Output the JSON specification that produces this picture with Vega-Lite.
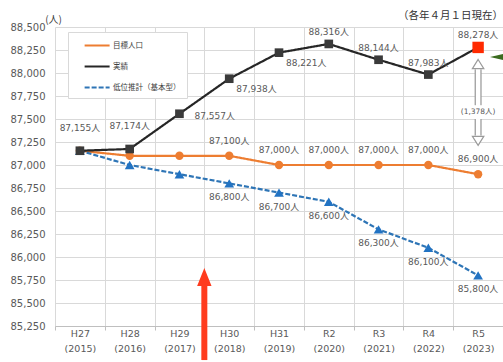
{
  "$schema": "https://vega.github.io/schema/vega-lite/v6.json",
  "width": 448,
  "height": 299,
  "autosize": {"type": "none"},
  "padding": {"left": 55, "top": 27, "right": 0, "bottom": 36},
  "background": "white",
  "config": {
    "view": {"stroke": null},
    "font": "DejaVu Sans, Noto Sans CJK JP",
    "text": {"fontSize": 9, "color": "#595959", "baseline": "middle"}
  },
  "title": {
    "text": "（各年４月１日現在）",
    "anchor": "end",
    "frame": "group",
    "fontSize": 10.5,
    "fontWeight": "normal",
    "color": "#333333",
    "offset": -7,
    "font": "Noto Sans CJK JP"
  },
  "datasets": {
    "main": [
      {"year": "H27 (2015)", "series": "目標人口", "value": 87155},
      {"year": "H28 (2016)", "series": "目標人口", "value": 87100},
      {"year": "H29 (2017)", "series": "目標人口", "value": 87100},
      {"year": "H30 (2018)", "series": "目標人口", "value": 87100},
      {"year": "H31 (2019)", "series": "目標人口", "value": 87000},
      {"year": "R2 (2020)", "series": "目標人口", "value": 87000},
      {"year": "R3 (2021)", "series": "目標人口", "value": 87000},
      {"year": "R4 (2022)", "series": "目標人口", "value": 87000},
      {"year": "R5 (2023)", "series": "目標人口", "value": 86900},
      {"year": "H27 (2015)", "series": "低位推計（基本型）", "value": 87155},
      {"year": "H28 (2016)", "series": "低位推計（基本型）", "value": 87000},
      {"year": "H29 (2017)", "series": "低位推計（基本型）", "value": 86900},
      {"year": "H30 (2018)", "series": "低位推計（基本型）", "value": 86800},
      {"year": "H31 (2019)", "series": "低位推計（基本型）", "value": 86700},
      {"year": "R2 (2020)", "series": "低位推計（基本型）", "value": 86600},
      {"year": "R3 (2021)", "series": "低位推計（基本型）", "value": 86300},
      {"year": "R4 (2022)", "series": "低位推計（基本型）", "value": 86100},
      {"year": "R5 (2023)", "series": "低位推計（基本型）", "value": 85800},
      {"year": "H27 (2015)", "series": "実績", "value": 87155},
      {"year": "H28 (2016)", "series": "実績", "value": 87174},
      {"year": "H29 (2017)", "series": "実績", "value": 87557},
      {"year": "H30 (2018)", "series": "実績", "value": 87938},
      {"year": "H31 (2019)", "series": "実績", "value": 88221},
      {"year": "R2 (2020)", "series": "実績", "value": 88316},
      {"year": "R3 (2021)", "series": "実績", "value": 88144},
      {"year": "R4 (2022)", "series": "実績", "value": 87983},
      {"year": "R5 (2023)", "series": "実績", "value": 88278}
    ]
  },
  "encoding": {
    "x": {
      "field": "year",
      "type": "nominal",
      "sort": null,
      "scale": {
        "domain": ["H27 (2015)", "H28 (2016)", "H29 (2017)", "H30 (2018)", "H31 (2019)", "R2 (2020)", "R3 (2021)", "R4 (2022)", "R5 (2023)"],
        "paddingInner": 0,
        "paddingOuter": 0
      },
      "axis": {
        "title": null,
        "labelAngle": 0,
        "labelExpr": "isValid(datum.value) ? split(datum.value, ' ') : ''",
        "labelFontSize": 9.5,
        "labelColor": "#595959",
        "labelLineHeight": 15,
        "labelPadding": -2,
        "labelBaseline": "top",
        "tickBand": "extent",
        "grid": true,
        "gridColor": "#d9d9d9",
        "tickColor": "#bfbfbf",
        "tickSize": 4,
        "domainColor": "#bfbfbf"
      }
    },
    "y": {
      "field": "value",
      "type": "quantitative",
      "scale": {"domain": [85250, 88500], "nice": false, "zero": false},
      "axis": {
        "title": "(人)",
        "titleAngle": 0,
        "titleX": -2,
        "titleY": -8,
        "titleAlign": "center",
        "titleBaseline": "middle",
        "titleFontWeight": "normal",
        "titleFontSize": 10,
        "titleColor": "#404040",
        "titleFont": "Noto Sans CJK JP",
        "values": [85250, 85500, 85750, 86000, 86250, 86500, 86750, 87000, 87250, 87500, 87750, 88000, 88250, 88500],
        "labelExpr": "format(datum.value, ',')",
        "labelOverlap": false,
        "labelFontSize": 10,
        "labelColor": "#595959",
        "labelPadding": 10,
        "ticks": false,
        "domain": false,
        "gridColor": "#d9d9d9"
      }
    }
  },
  "layer": [
    {
      "data": {"name": "main"},
      "mark": {"type": "line", "strokeWidth": 2.2},
      "encoding": {
        "color": {
          "field": "series",
          "type": "nominal",
          "scale": {"domain": ["目標人口", "実績", "低位推計（基本型）"], "range": ["#ed7d31", "#262626", "#2e75b6"]},
          "legend": {
            "title": null,
            "orient": "none",
            "legendX": 13,
            "legendY": 5,
            "fillColor": "white",
            "strokeColor": "#d9d9d9",
            "padding": 6,
            "rowPadding": 9,
            "labelFontSize": 7.5,
            "labelColor": "#404040",
            "labelFont": "Noto Sans CJK JP",
            "labelOffset": 24,
            "symbolType": "M0.5,0H4.5",
            "symbolSize": 156,
            "symbolStrokeWidth": 2
          }
        },
        "strokeDash": {
          "field": "series",
          "type": "nominal",
          "scale": {"domain": ["目標人口", "実績", "低位推計（基本型）"], "range": [[1, 0], [1, 0], [5, 2]]},
          "legend": {
            "title": null,
            "orient": "none",
            "legendX": 13,
            "legendY": 5,
            "fillColor": "white",
            "strokeColor": "#d9d9d9",
            "padding": 6,
            "rowPadding": 9,
            "labelFontSize": 7.5,
            "labelColor": "#404040",
            "labelFont": "Noto Sans CJK JP",
            "labelOffset": 24,
            "symbolType": "M0.5,0H4.5",
            "symbolSize": 156,
            "symbolStrokeWidth": 2
          }
        }
      }
    },
    {
      "data": {"name": "main"},
      "transform": [{"filter": "datum.series == '目標人口'"}],
      "mark": {"type": "point", "shape": "circle", "size": 70, "filled": true, "opacity": 1, "strokeWidth": 0, "fill": "#ed7d31"},
      "encoding": {}
    },
    {
      "data": {"name": "main"},
      "transform": [{"filter": "datum.series == '低位推計（基本型）'"}],
      "mark": {"type": "point", "shape": "triangle-up", "size": 95, "filled": true, "opacity": 1, "strokeWidth": 0, "fill": "#2273c3"},
      "encoding": {}
    },
    {
      "data": {"name": "main"},
      "transform": [{"filter": "datum.series == '実績' && datum.year != 'R5 (2023)'"}],
      "mark": {"type": "point", "shape": "square", "size": 75, "filled": true, "opacity": 1, "strokeWidth": 0, "fill": "#3a3a3a"},
      "encoding": {}
    },
    {
      "data": {"name": "main"},
      "transform": [{"filter": "datum.series == '実績' && datum.year == 'R5 (2023)'"}],
      "mark": {"type": "point", "shape": "square", "size": 130, "filled": true, "opacity": 1, "strokeWidth": 0, "fill": "#ff2a00"},
      "encoding": {}
    },
    {
      "data": {"name": "main"},
      "transform": [
        {"filter": "datum.series == '実績' && (datum.year == 'H27 (2015)' || datum.year == 'H28 (2016)')"},
        {"calculate": "format(datum.value, ',') + '人'", "as": "label"}
      ],
      "mark": {"type": "text", "dy": -23},
      "encoding": {"text": {"field": "label"}}
    },
    {
      "data": {"name": "main"},
      "transform": [
        {"filter": "datum.series == '実績' && indexof(['R2 (2020)', 'R3 (2021)', 'R4 (2022)', 'R5 (2023)'], datum.year) >= 0"},
        {"calculate": "format(datum.value, ',') + '人'", "as": "label"}
      ],
      "mark": {"type": "text", "dy": -12},
      "encoding": {"text": {"field": "label"}}
    },
    {
      "data": {"name": "main"},
      "transform": [
        {"filter": "datum.series == '実績' && (datum.year == 'H30 (2018)' || datum.year == 'H31 (2019)')"},
        {"calculate": "format(datum.value, ',') + '人'", "as": "label"}
      ],
      "mark": {"type": "text", "align": "left", "dx": 7, "dy": 10},
      "encoding": {"text": {"field": "label"}}
    },
    {
      "data": {"name": "main"},
      "transform": [
        {"filter": "datum.series == '実績' && datum.year == 'H29 (2017)'"},
        {"calculate": "format(datum.value, ',') + '人'", "as": "label"}
      ],
      "mark": {"type": "text", "align": "left", "dx": 15, "dy": 2},
      "encoding": {"text": {"field": "label"}}
    },
    {
      "data": {"name": "main"},
      "transform": [
        {"filter": "datum.series == '目標人口' && indexof(['H27 (2015)', 'H28 (2016)', 'H29 (2017)'], datum.year) < 0"},
        {"calculate": "format(datum.value, ',') + '人'", "as": "label"}
      ],
      "mark": {"type": "text", "dy": -15},
      "encoding": {"text": {"field": "label"}}
    },
    {
      "data": {"name": "main"},
      "transform": [
        {"filter": "datum.series == '低位推計（基本型）' && indexof(['H27 (2015)', 'H28 (2016)', 'H29 (2017)'], datum.year) < 0"},
        {"calculate": "format(datum.value, ',') + '人'", "as": "label"}
      ],
      "mark": {"type": "text", "dy": 14},
      "encoding": {"text": {"field": "label"}}
    },
    {
      "data": {"values": [{"year": "H29 (2017)", "value": 85700, "value2": 84880}]},
      "mark": {"type": "rule", "color": "#ff3c1e", "strokeWidth": 6},
      "encoding": {
        "x": {"field": "year", "type": "nominal", "bandPosition": 1},
        "y2": {"field": "value2"}
      }
    },
    {
      "data": {"values": [{"year": "H29 (2017)", "value": 85783}]},
      "mark": {"type": "point", "shape": "M0,-1L0.8,1L-0.8,1Z", "size": 324, "filled": true, "opacity": 1, "color": "#ff3c1e"},
      "encoding": {
        "x": {"field": "year", "type": "nominal", "bandPosition": 1}
      }
    },
    {
      "data": {"values": [{"year": "R5 (2023)", "value": 88174}]},
      "mark": {"type": "point", "shape": "M-1,0L1,-0.45L1,0.45Z", "size": 676, "filled": true, "opacity": 1, "color": "#3b6b1f"},
      "encoding": {
        "x": {"field": "year", "type": "nominal", "bandPosition": 1}
      }
    },
    {
      "data": {"values": [
        {"year": "R5 (2023)", "value": 88040, "value2": 87650},
        {"year": "R5 (2023)", "value": 87500, "value2": 87320}
      ]},
      "mark": {"type": "rule", "color": "#9a9a9a", "strokeWidth": 7},
      "encoding": {
        "y2": {"field": "value2"}
      }
    },
    {
      "data": {"values": [
        {"year": "R5 (2023)", "value": 88050, "value2": 87640},
        {"year": "R5 (2023)", "value": 87510, "value2": 87310}
      ]},
      "mark": {"type": "rule", "color": "white", "strokeWidth": 4.5},
      "encoding": {
        "y2": {"field": "value2"}
      }
    },
    {
      "data": {"values": [{"year": "R5 (2023)", "value": 88085}]},
      "mark": {"type": "point", "shape": "M0,-1L1,0.6L-1,0.6Z", "size": 130, "filled": true, "opacity": 1, "fill": "white", "stroke": "#9a9a9a", "strokeWidth": 1.2},
      "encoding": {}
    },
    {
      "data": {"values": [{"year": "R5 (2023)", "value": 87275}]},
      "mark": {"type": "point", "shape": "M0,1L1,-0.6L-1,-0.6Z", "size": 130, "filled": true, "opacity": 1, "fill": "white", "stroke": "#9a9a9a", "strokeWidth": 1.2},
      "encoding": {}
    },
    {
      "data": {"values": [{"year": "R5 (2023)", "value": 87576, "label": "(1,378人)"}]},
      "mark": {"type": "text", "fontSize": 7.5},
      "encoding": {
        "text": {"field": "label"}
      }
    }
  ]
}
